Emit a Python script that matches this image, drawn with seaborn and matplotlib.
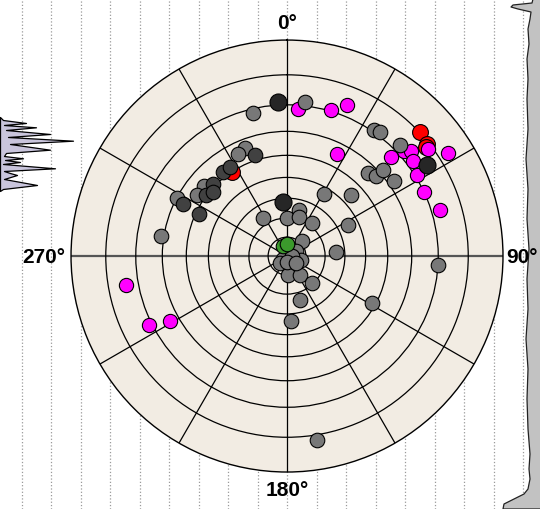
import numpy as np
import matplotlib
matplotlib.use('Agg')
import matplotlib.pyplot as plt
import seaborn as sns

# Punkte: Azimut (Grad, im Uhrzeigersinn ab Nord) und Zenitwinkel (Grad)
gray_az = [346.5, 6.5, 338.8, 334.5, 310.3, 304.3, 297.7, 279.2, 30.5, 46.3, 327.2, 0.5, 15.0,
           17.0, 36.8, 63.2, 85.7, 45.0, 59.5, 106.3, 231.0, 223.8, 176.1, 145.2, 137.9, 163.5,
           176.5, 93.4, 119.0, 170.8, 34.7, 36.9, 45.5, 44.5, 48.2, 48.1, 55.1, 90.0, 180.0, 127.9]
gray_zen = [68.5, 71.4, 56.5, 55.3, 53.4, 53.6, 59.9, 61.1, 37.1, 44.7, 23.4, 19.8, 24.8,
            21.6, 21.6, 35.2, 25.4, 11.4, 5.5, 7.6, 2.5, 5.4, 10.1, 12.0, 19.3, 24.0,
            33.3, 70.1, 48.3, 81.5, 70.8, 71.3, 72.5, 56.4, 57.9, 61.7, 62.2, 2.6, 3.2, 6.0]

dark_az = [342.5, 322.8, 327.5, 314.1, 307.1, 310.8, 296.6, 295.6]
dark_zen = [52.3, 52.3, 52.2, 51.2, 50.4, 48.5, 56.4, 48.4]

black_az = [356.5, 356.1, 57.0]
black_zen = [71.2, 28.4, 75.5]

red_az = [326.5, 47.1, 51.3, 52.0]
red_zen = [49.8, 80.3, 79.4, 78.5]

magenta_az = [4.4, 16.7, 21.7, 26.1, 52.8, 57.3, 48.2, 49.8, 53.0, 58.1, 65.1, 73.3, 46.4,
              259.8, 243.5, 240.8]
magenta_zen = [68.8, 70.4, 73.9, 55.4, 78.7, 83.1, 72.0, 73.9, 72.5, 70.7, 70.0, 73.0, 67.1,
               74.3, 71.1, 63.6]

green_az = [336.8, 357.7]
green_zen = [6.0, 6.6]

theta_ticks = [0, 30, 60, 90, 120, 150, 180, 210, 240, 270, 300, 330]
cardinal_angles = [0, 90, 180, 270]
cardinal_labels = ['0°', '90°', '180°', '270°']
ring_levels = [10, 20, 30, 40, 50, 60, 70, 80]

# Hintergrund (Pixelkoordinaten): Profil links und Rand rechts
left_y = [118, 121, 124, 126, 128.3, 131, 135, 138, 141.7, 145, 150.7, 154, 157, 159.3, 161,
          163, 165, 169.3, 172, 174, 176, 180, 186, 190, 192]
left_w = [0, 3, 26, 4, 36, 6, 50, 8, 73, 10, 50, 6, 4, 23, 5, 20, 3, 55, 4, 10, 17, 4, 37, 3, 0]

right_y = [0, 4, 6, 8, 10, 13, 20, 30, 45, 60, 80, 100, 130, 160, 190, 220, 250, 280, 310, 340,
           370, 400, 430, 455, 470, 480, 490, 495, 500, 505, 510]
right_x = [533, 532, 513, 511, 518, 531, 530, 528, 529, 527, 528, 527, 528, 526, 528, 527, 529,
           527, 528, 526, 528, 527, 528, 530, 529, 530, 528, 524, 514, 504, 503]


def zen_to_r(z):
    return np.tan(np.radians(np.asarray(z, dtype=float)) / 2)


def r_to_zen(r):
    return 2 * np.degrees(np.arctan(np.asarray(r, dtype=float)))


def draw_background(fig):
    bg = fig.add_axes([0, 0, 1, 1])
    bg.set_xlim(0, 540)
    bg.set_ylim(510, 0)
    bg.set_xticks(np.linspace(22, 523, 18))
    bg.grid(axis='x', color='#9a9a9a', linestyle=':', linewidth=0.9)
    bg.tick_params(length=0, labelbottom=False, labelleft=False)
    for s in bg.spines.values():
        s.set_visible(False)
    bg.fill_betweenx(left_y, 0, left_w, color='#c9c5dc', edgecolor='black', linewidth=0.9)
    bg.fill_betweenx(right_y, right_x, 545, color='#c2c2c2', edgecolor='#222222', linewidth=0.9)
    return bg


def draw_polar(fig):
    ax = fig.add_axes([0.1315, 0.0725, 0.8, 0.847], projection='polar')
    ax.set_facecolor('#f2ece3')
    ax.set_theta_zero_location('N')
    ax.set_theta_direction(-1)
    ax.set_rscale('function', functions=(zen_to_r, r_to_zen))

    groups = [
        (red_az, red_zen, '#ff0000', 130),
        (magenta_az, magenta_zen, '#ff00ff', 105),
        (gray_az, gray_zen, '#787878', 110),
        (dark_az, dark_zen, '#414141', 110),
        (black_az, black_zen, '#262626', 150),
        (green_az, green_zen, '#3b9a2c', 110),
    ]
    for az, zen, col, size in groups:
        sns.scatterplot(x=np.radians(az), y=zen, ax=ax, color=col, s=size,
                        edgecolor='black', linewidth=0.8, legend=False, zorder=3)

    ax.set_rlim(0, 90)
    ax.set_rgrids(ring_levels, labels=[''] * len(ring_levels))
    ax.set_thetagrids(theta_ticks, labels=[''] * len(theta_ticks))
    ax.tick_params(axis='x', length=0)
    ax.grid(True, color='black', linewidth=0.9)
    for i in (3, 9):
        gl = ax.xaxis.get_gridlines()[i]
        gl.set_color('#555555')
        gl.set_linewidth(1.6)
    ax.spines['polar'].set_color('black')
    ax.spines['polar'].set_linewidth(1.0)
    ax.set_xlabel('')
    ax.set_ylabel('')

    # Beschriftung der Himmelsrichtungen außerhalb des Kreises
    offsets = {0: ((0, 6), 'center', 'bottom'), 90: ((2, 0), 'left', 'center'),
               180: ((0, -6), 'center', 'top'), 270: ((-4, 0), 'right', 'center')}
    for ang, lab in zip(cardinal_angles, cardinal_labels):
        off, ha, va = offsets[ang]
        ax.annotate(lab, xy=(np.radians(ang), 90), xytext=off, textcoords='offset points',
                    ha=ha, va=va, fontsize=15, fontweight='bold', family='Liberation Sans',
                    color='black', annotation_clip=False)
    return ax


def main():
    sns.set_style('white')
    fig = plt.figure(figsize=(5.4, 5.1), dpi=100)
    draw_background(fig)
    draw_polar(fig)
    fig.savefig('out.png', dpi=100)


main()
